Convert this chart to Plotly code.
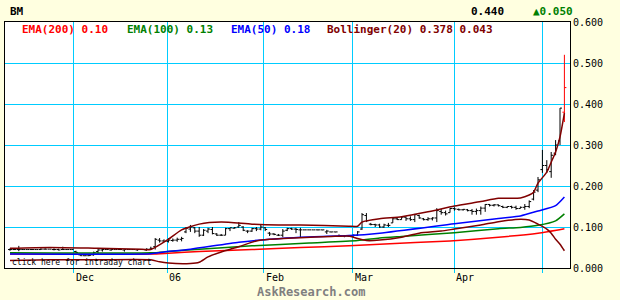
import plotly.graph_objects as go

# ---------------- data ----------------
opens = [.045,.045,.045,.045,.045,.045,.045,.045,.046,.046,.045,.045,.045,.045,.045,.040,.032,.030,.030,.032,
         .040,.044,.045,.044,.045,.045,.044,.045,.045,.044,.045,.044,.046,.052,.068,.066,.065,.067,.068,.070,
         .088,.095,.098,.090,.080,.090,.094,.083,.080,.080,.096,.097,.100,.100,.090,.090,.096,.095,.098,.085,
         .083,.080,.080,.092,.096,.095,.093,.093,.093,.093,.093,.093,.088,.088,.088,.080,.078,.078,.078,.080,
         .095,.128,.107,.106,.105,.100,.104,.110,.120,.118,.124,.120,.118,.128,.120,.118,.120,.122,.138,.135,
         .135,.145,.143,.142,.142,.140,.138,.140,.146,.155,.153,.154,.150,.148,.150,.148,.145,.148,.150,.168,
         .190,.240,.250,.235,.280,.310,.380]
highs = [.048,.047,.054,.045,.045,.045,.045,.048,.048,.046,.048,.047,.052,.045,.045,.042,.032,.030,.032,.040,
         .046,.047,.045,.045,.045,.045,.045,.045,.045,.046,.045,.048,.052,.073,.073,.070,.073,.072,.074,.076,
         .100,.105,.100,.100,.095,.098,.100,.085,.083,.098,.098,.100,.112,.102,.092,.098,.100,.105,.100,.088,
         .085,.083,.095,.098,.098,.098,.098,.093,.093,.093,.093,.093,.093,.088,.088,.080,.080,.080,.082,.090,
         .134,.134,.110,.108,.108,.108,.110,.124,.124,.126,.126,.126,.132,.130,.122,.124,.124,.146,.144,.140,
         .146,.148,.145,.144,.144,.144,.145,.150,.156,.156,.156,.155,.152,.150,.152,.152,.150,.156,.165,.190,
         .222,.288,.263,.283,.312,.390,.520]
lows = [.042,.044,.041,.045,.045,.045,.045,.044,.045,.046,.043,.043,.044,.045,.045,.036,.030,.029,.029,.030,
        .032,.040,.045,.042,.045,.044,.040,.045,.045,.042,.045,.042,.044,.045,.062,.063,.062,.064,.064,.065,
        .085,.088,.085,.076,.078,.085,.082,.078,.078,.080,.090,.096,.098,.090,.085,.088,.090,.092,.090,.078,
        .080,.078,.075,.090,.093,.085,.075,.093,.093,.093,.092,.092,.083,.087,.087,.078,.075,.076,.076,.078,
        .093,.112,.104,.100,.098,.098,.100,.110,.117,.118,.115,.115,.112,.120,.116,.115,.116,.112,.130,.128,
        .135,.140,.140,.140,.138,.130,.130,.130,.137,.150,.150,.150,.146,.146,.145,.142,.145,.142,.146,.165,
        .185,.232,.232,.220,.275,.300,.356]
closes = [.045,.045,.045,.045,.045,.045,.045,.046,.046,.046,.045,.044,.045,.045,.045,.038,.030,.030,.031,.038,
          .044,.045,.045,.045,.045,.045,.045,.045,.045,.045,.045,.046,.048,.070,.066,.065,.068,.068,.070,.072,
          .097,.100,.090,.080,.092,.095,.084,.080,.080,.096,.098,.098,.104,.092,.090,.096,.095,.100,.094,.083,
          .082,.080,.090,.096,.095,.094,.093,.093,.093,.093,.093,.093,.090,.088,.088,.078,.078,.078,.080,.088,
          .130,.115,.106,.105,.100,.105,.104,.120,.118,.124,.120,.118,.130,.122,.118,.120,.122,.140,.135,.132,
          .145,.144,.142,.143,.140,.138,.140,.146,.155,.153,.154,.152,.148,.150,.148,.145,.148,.150,.162,.185,
          .215,.250,.240,.275,.300,.390,.440]

ema200_idx = [0, 32, 36, 43, 55, 66, 77, 84, 100, 111, 120, 126]
ema200_val = [.034, .034, .036, .040, .045, .050, .054, .058, .066, .075, .085, .096]

ema100_idx = [0, 32, 36, 43, 55, 68, 79, 84, 89, 101, 111, 116, 120, 124, 126]
ema100_val = [.037, .037, .040, .046, .054, .061, .067, .073, .077, .086, .096, .099, .104, .115, .132]

ema50_idx = [0, 32, 35, 41, 52, 59, 66, 77, 84, 101, 111, 116, 120, 124, 126]
ema50_val = [.034, .035, .039, .046, .063, .070, .075, .079, .085, .108, .121, .127, .139, .152, .173]

bb_up_idx = [0, 9, 20, 30, 32, 36, 39, 43, 48, 55, 61, 66, 77, 79, 80, 84, 89, 95, 101, 107,
             111, 116, 118, 119, 120, 122, 123, 124, 125, 126]
bb_up_val = [.048, .050, .048, .046, .045, .070, .093, .107, .112, .107, .105, .105, .102, .102, .112,
             .120, .125, .137, .151, .162, .170, .171, .178, .185, .207, .234, .258, .283, .320, .378]

bb_lo_idx = [0, 9, 20, 32, 34, 36, 41, 43, 45, 48, 52, 56, 59, 66, 73, 77, 79, 81, 84, 89, 93, 98,
             101, 107, 111, 116, 118, 120, 122, 123, 124, 125, 126]
bb_lo_val = [.018, .020, .020, .020, .015, .012, .011, .014, .027, .039, .052, .066, .070, .074, .077,
             .078, .072, .067, .068, .075, .085, .090, .095, .105, .113, .119, .117, .107, .095, .085,
             .070, .058, .042]

month_pos = [14.5, 35.7, 57.7, 77.9, 101, 121]
month_lbl = ["Dec", "06", "Feb", "Mar", "Apr", ""]
y_ticks = [0.0, 0.1, 0.2, 0.3, 0.4, 0.5, 0.6]

symbol = "BM"
last_price = "0.440"
change = "\u25b20.050"
legend_items = [("EMA(200) 0.10", "#FF0000"), ("EMA(100) 0.13", "#008000"),
                ("EMA(50) 0.18", "#0000FF"), ("Bollinger(20) 0.378 0.043", "#800000")]

# ---------------- geometry ----------------
W, H = 620, 300
L, R, T, B = 5, 50, 22, 32
PW, PH = W - L - R, H - T - B
MONO = "DejaVu Sans Mono"
GRID = "#00CCFF"

def px(xp):
    return (xp - L) / PW

def py(yp):
    return (H - B - yp) / PH

n = len(closes)
xs = list(range(n))

fig = go.Figure()
fig.add_trace(go.Ohlc(x=xs[:-1], open=opens[:-1], high=highs[:-1], low=lows[:-1], close=closes[:-1],
                      increasing=dict(line=dict(color="black", width=1)),
                      decreasing=dict(line=dict(color="black", width=1)),
                      tickwidth=0.45, hoverinfo="skip"))
fig.add_trace(go.Ohlc(x=xs[-1:], open=opens[-1:], high=highs[-1:], low=lows[-1:], close=closes[-1:],
                      increasing=dict(line=dict(color="#FF0000", width=1)),
                      decreasing=dict(line=dict(color="#FF0000", width=1)),
                      tickwidth=0.45, hoverinfo="skip"))

for ix, vals, col in [(ema200_idx, ema200_val, "#FF0000"), (ema100_idx, ema100_val, "#008000"),
                      (ema50_idx, ema50_val, "#0000FF"), (bb_up_idx, bb_up_val, "#800000"),
                      (bb_lo_idx, bb_lo_val, "#800000")]:
    fig.add_trace(go.Scatter(x=ix, y=vals, mode="lines", line=dict(color=col, width=1.5, shape="spline", smoothing=0.6),
                             hoverinfo="skip"))

ann = []
ann.append(dict(text="<b>%s</b>" % symbol, x=px(8), y=py(12), font=dict(color="black", size=11)))
ann.append(dict(text="<b>%s</b>" % last_price, x=px(469), y=py(12), font=dict(color="black", size=11)))
ann.append(dict(text="<b>%s</b>" % change, x=px(531), y=py(12), font=dict(color="#008000", size=11)))
for (txt, col), xp in zip(legend_items, [20, 125, 229, 325]):
    ann.append(dict(text="<b>%s</b>" % txt, x=px(xp), y=py(30), font=dict(color=col, size=11)))
for pos, lbl in zip(month_pos, month_lbl):
    if lbl:
        ann.append(dict(text=lbl, x=pos, xref="x", y=py(277), font=dict(color="black", size=10)))
ann.append(dict(text="click here for intraday chart", x=px(10), y=py(262), font=dict(color="black", size=8)))
ann.append(dict(text="<b>AskResearch.com</b>", x=px(311), y=py(292), xanchor="center",
                font=dict(color="#808080", size=12)))
for a in ann:
    a.setdefault("xref", "paper")
    a.setdefault("yref", "paper")
    a.setdefault("xanchor", "left")
    a["yanchor"] = "middle"
    a["showarrow"] = False
    a["font"]["family"] = MONO

fig.update_layout(
    width=W, height=H, margin=dict(l=L, r=R, t=T, b=B),
    paper_bgcolor="#FFFFE0", plot_bgcolor="white", showlegend=False,
    annotations=ann,
    xaxis=dict(range=[(L - 10) / 4.4, (W - R - 10) / 4.4], tickvals=month_pos, ticktext=month_lbl,
               showticklabels=False, showgrid=True, gridcolor=GRID, gridwidth=1,
               showline=True, linecolor="black", linewidth=1, mirror=True,
               ticks="outside", ticklen=4, tickcolor=GRID, zeroline=False,
               rangeslider=dict(visible=False)),
    yaxis=dict(side="right", range=[0, 0.6], tickvals=y_ticks, tickformat=".3f",
               showgrid=True, gridcolor=GRID, gridwidth=1,
               showline=True, linecolor="black", linewidth=1, mirror=True,
               ticks="", zeroline=False,
               tickfont=dict(family=MONO, size=10, color="black")),
)

fig.write_html("out.html")
